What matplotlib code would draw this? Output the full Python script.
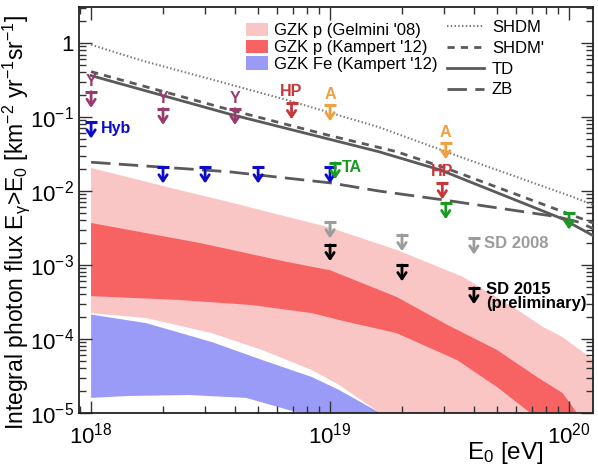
import matplotlib
matplotlib.use('Agg')
import matplotlib.pyplot as plt
import numpy as np
from matplotlib.patches import Patch
from matplotlib.lines import Line2D
from matplotlib.ticker import LogLocator, FuncFormatter, NullFormatter

plt.rcParams['font.family'] = ['Liberation Sans', 'DejaVu Sans']
plt.rcParams['mathtext.fontset'] = 'custom'
plt.rcParams['mathtext.rm'] = 'Liberation Sans'
plt.rcParams['mathtext.it'] = 'Liberation Sans:italic'
plt.rcParams['mathtext.bf'] = 'Liberation Sans:bold'

# ---------------- data ----------------
# GZK p (Gelmini '08) band
gel_up_E = [1e18, 2.34e18, 3.53e18, 1e19, 1.9e19, 3.6e19, 6.05e19, 7.8e19, 9.4e19, 1.22e20, 1.4e20]
gel_up_F = [2.05e-2, 1.03e-2, 7.5e-3, 3.2e-3, 1.6e-3, 6.9e-4, 2.5e-4, 1.45e-4, 1.06e-4, 5.7e-5, 4.5e-5]
gel_lo_E = [1e18, 1.7e18, 3.2e18, 5.2e18, 8.4e18, 1.09e19, 1.62e19, 1.7e19, 1.4e20]
gel_lo_F = [2.24e-4, 1.92e-4, 1.2e-4, 7.1e-5, 3.8e-5, 2.4e-5, 1.0e-5, 5e-6, 5e-6]

# GZK p (Kampert '12) band
kp_up_E = [1e18, 2.86e18, 6.6e18, 1e19, 1.9e19, 3.1e19, 5e19, 7.35e19, 9.4e19, 1.08e20, 1.12e20]
kp_up_F = [3.7e-3, 1.98e-3, 1.1e-3, 8.5e-4, 3.7e-4, 1.55e-4, 7.1e-5, 3.06e-5, 1.86e-5, 1.0e-5, 5e-6]
kp_lo_E = [1e18, 2.34e18, 4.7e18, 8.4e18, 1.09e19, 1.9e19, 3.4e19, 5e19, 6.9e19, 7.2e19]
kp_lo_F = [3.8e-4, 3.37e-4, 2.88e-4, 2.24e-4, 1.81e-4, 1.2e-4, 5.2e-5, 2.24e-5, 1.0e-5, 5e-6]

# GZK Fe (Kampert '12) band
kfe_up_E = [1e18, 1.7e18, 3.2e18, 5.2e18, 8.4e18, 1.09e19, 1.62e19, 1.7e19]
kfe_up_F = [2.14e-4, 1.64e-4, 9.1e-5, 5.2e-5, 3.06e-5, 2.05e-5, 1.0e-5, 5e-6]
kfe_lo_E = [1e18, 1.44e18, 2.57e18, 4.46e18, 7.2e18, 7.9e18, 8.2e18]
kfe_lo_F = [1.6e-5, 1.7e-5, 1.75e-5, 1.6e-5, 1.03e-5, 1.0e-5, 5e-6]

# model lines
shdm_E = [1e18, 1.6e18, 6.6e18, 1.6e19, 3.5e19, 1.04e20, 1.29e20]
shdm_F = [0.95, 0.59, 0.17, 0.073, 0.029, 8.3e-3, 6.3e-3]
shdmp_E = [1e18, 3.78e18, 1e19, 1.9e19, 3.1e19, 8.1e19, 1.29e20]
shdmp_F = [0.41, 0.126, 0.056, 0.034, 0.020, 6.3e-3, 3.6e-3]
td_E = [1e18, 3.78e18, 1.6e19, 2.9e19, 9.4e19, 1.29e20]
td_F = [0.363, 0.11, 0.034, 0.0192, 4.2e-3, 2.4e-3]
zb_E = [1e18, 3.78e18, 1e19, 1.6e19, 2.97e19, 8.9e19, 1.1e20, 1.29e20]
zb_F = [0.0245, 0.0182, 0.0129, 0.0100, 7.6e-3, 4.5e-3, 3.8e-3, 3.0e-3]

# upper limits
y_E = [1e18, 2e18, 4e18]
y_lim = [0.22, 0.13, 0.13]
hp_E = [6.9e18, 2.95e19]
hp_lim = [0.155, 0.0128]
a_E = [1e19, 3.05e19]
a_lim = [0.145, 0.0445]
hyb_E = [1e18, 2e18, 3e18, 5e18, 1e19]
hyb_lim = [0.085, 0.021, 0.021, 0.021, 0.021]
ta_E = [1.05e19, 3.05e19, 1e20]
ta_lim = [0.024, 0.0069, 0.005]
sd08_E = [1e19, 2e19, 4e19]
sd08_lim = [3.8e-3, 2.55e-3, 2.3e-3]
sd15_E = [1e19, 2e19, 4e19]
sd15_lim = [1.87e-3, 1.0e-3, 4.9e-4]

# ---------------- figure ----------------
fig = plt.figure(figsize=(5.98, 4.69), dpi=100)
ax = fig.add_axes([79/598, 56/469, (593-79)/598, (413-7)/469])
ax.set_xscale('log')
ax.set_yscale('log')
ax.set_xlim(8.9e17, 1.26e20)
ax.set_ylim(1e-5, 3.07)

c_gel = '#F9C5C5'
c_kp = '#F76262'
c_fe = '#9A9AF7'

def band(upE, upF, loE, loF, color):
    xs = list(upE) + list(loE)[::-1]
    ys = list(upF) + list(loF)[::-1]
    ax.fill(xs, ys, color=color, lw=0, zorder=1)

band(gel_up_E, gel_up_F, gel_lo_E, gel_lo_F, c_gel)
band(kp_up_E, kp_up_F, kp_lo_E, kp_lo_F, c_kp)
band(kfe_up_E, kfe_up_F, kfe_lo_E, kfe_lo_F, c_fe)

lc = '#5A5A5A'
ax.plot(shdm_E, shdm_F, color='#7A7A7A', lw=1.5, ls=(0, (0.7, 1.1)), zorder=3)
ax.plot(shdmp_E, shdmp_F, color=lc, lw=2, ls=(0, (2.6, 2.2)), zorder=3)
ax.plot(td_E, td_F, color=lc, lw=2, ls='-', zorder=3)
ax.plot(zb_E, zb_F, color=lc, lw=2, ls=(0, (7, 3)), zorder=3)

drop = 10 ** -0.22

def limits(E, L, color):
    for e, l in zip(E, L):
        ax.plot([e], [l], marker='_', ms=8, mew=2.2, color=color, zorder=5)
        ax.annotate('', xy=(e, l * drop), xytext=(e, l),
                    arrowprops=dict(arrowstyle='->,head_length=0.45,head_width=0.3',
                                    lw=2, color=color, shrinkA=0, shrinkB=0),
                    zorder=5)

c_y = '#9B3A6C'
c_hp = '#C8363A'
c_a = '#F0A040'
c_hyb = '#0C0CC8'
c_ta = '#1A9A22'
c_sd08 = '#9C9C9C'
c_sd15 = '#000000'

limits(y_E, y_lim, c_y)
limits(hp_E, hp_lim, c_hp)
limits(a_E, a_lim, c_a)
limits(hyb_E, hyb_lim, c_hyb)
limits(ta_E, ta_lim, c_ta)
limits(sd08_E, sd08_lim, c_sd08)
limits(sd15_E, sd15_lim, c_sd15)

def lab(text, e, l, dx, dy, color, ha='center', va='center', size=11.5):
    ax.annotate(text, xy=(e, l), xytext=(dx, dy), textcoords='offset points',
                ha=ha, va=va, color=color, fontsize=size, fontweight='bold', zorder=6)

for e, l in zip(y_E, y_lim):
    lab('Y', e, l, 0, 7.5, c_y)
for e, l in zip(hp_E, hp_lim):
    lab('HP', e, l, 0, 8, c_hp)
for e, l in zip(a_E, a_lim):
    lab('A', e, l, 0, 7.5, c_a)
lab('Hyb', hyb_E[0], hyb_lim[0], 7, -4.3, c_hyb, ha='left')
lab('TA', ta_E[0], ta_lim[0], 5, -3, c_ta, ha='left')
lab('SD 2008', sd08_E[2], sd08_lim[2], 7, -3.6, c_sd08, ha='left', size=12)
ax.annotate('SD 2015\n(preliminary)', xy=(sd15_E[2], sd15_lim[2]), xytext=(8.6, 4.5),
            textcoords='offset points', ha='left', va='top', color=c_sd15,
            fontsize=12, fontweight='bold', linespacing=0.95, zorder=6)

# axes styling
for s in ax.spines.values():
    s.set_linewidth(1.3)
    s.set_color('#222222')
ax.xaxis.set_major_locator(LogLocator(base=10, numticks=10))
ax.xaxis.set_minor_locator(LogLocator(base=10, subs=np.arange(2, 10), numticks=20))
ax.yaxis.set_major_locator(LogLocator(base=10, numticks=10))
ax.yaxis.set_minor_locator(LogLocator(base=10, subs=np.arange(2, 10), numticks=20))
ax.xaxis.set_minor_formatter(NullFormatter())
ax.yaxis.set_minor_formatter(NullFormatter())

def fmt(v, pos):
    ex = int(round(np.log10(v)))
    if ex == 0:
        return '1'
    return r'$\mathregular{10^{%d}}$' % ex

ax.xaxis.set_major_formatter(FuncFormatter(fmt))
ax.yaxis.set_major_formatter(FuncFormatter(fmt))
ax.tick_params(which='both', direction='in', top=True, right=True, color='#333333')
ax.tick_params(which='major', length=9, width=1.0, labelsize=16)
ax.tick_params(which='minor', length=5, width=1.0)
ax.tick_params(axis='x', which='major', pad=7)

ax.set_ylabel(r'Integral photon flux E$_{\mathregular{γ}}$>E$_{\mathregular{0}}$ [km$^{\mathregular{-2}}$ yr$^{\mathregular{-1}}$sr$^{\mathregular{-1}}$]',
              fontsize=16.5)
ax.yaxis.set_label_coords(-0.091, 0.469)
fig.text(544/598, 1 - 459/469, r'E$_{\mathregular{0}}$ [eV]', ha='right', va='baseline', fontsize=17.5)

# legends
h1 = [Patch(facecolor=c_gel, edgecolor='none'),
      Patch(facecolor=c_kp, edgecolor='none'),
      Patch(facecolor=c_fe, edgecolor='none')]
l1 = ["GZK p (Gelmini '08)", "GZK p (Kampert '12)", "GZK Fe (Kampert '12)"]
leg1 = ax.legend(h1, l1, loc='upper left', bbox_to_anchor=(246/598, 1 - 23/469),
                 bbox_transform=fig.transFigure, frameon=False, fontsize=12,
                 handlelength=1.3, handleheight=0.85, handletextpad=0.35,
                 labelspacing=0.08, borderpad=0, borderaxespad=0)
ax.add_artist(leg1)
h2 = [Line2D([], [], color='#7A7A7A', lw=1.5, ls=(0, (0.7, 1.1))),
      Line2D([], [], color=lc, lw=2, ls=(0, (2.6, 2.2))),
      Line2D([], [], color=lc, lw=2, ls='-'),
      Line2D([], [], color=lc, lw=2, ls=(0, (7, 3)))]
l2 = ['SHDM', "SHDM'", 'TD', 'ZB']
ax.legend(h2, l2, loc='upper left', bbox_to_anchor=(447/598, 1 - 20/469),
          bbox_transform=fig.transFigure, frameon=False, fontsize=12,
          handlelength=2.2, handletextpad=0.5, labelspacing=0.35,
          borderpad=0, borderaxespad=0)

fig.savefig('out.png', dpi=100)
